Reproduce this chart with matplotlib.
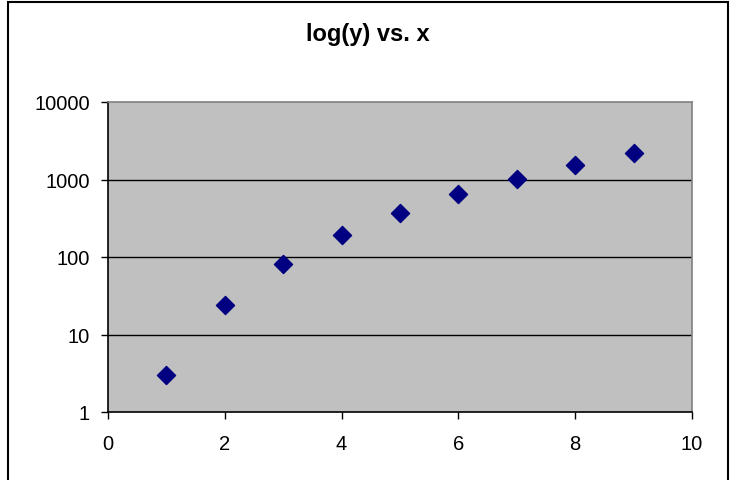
import matplotlib
matplotlib.use("Agg")
import matplotlib.pyplot as plt
from matplotlib.patches import Rectangle

plt.rcParams['font.family'] = ['Liberation Sans', 'DejaVu Sans']

x_vals = [1, 2, 3, 4, 5, 6, 7, 8, 9]
y_vals = [3, 24, 81, 192, 375, 648, 1029, 1536, 2187]
x_ticks = [0, 2, 4, 6, 8, 10]
y_ticks = [1, 10, 100, 1000, 10000]
y_labels = ['1', '10', '100', '1000', '10000']

fig = plt.figure(figsize=(7.34, 4.81), dpi=100)
ax = fig.add_axes([108 / 734, 1 - 413 / 481, 584 / 734, 310 / 481])
ax.set_facecolor('#c0c0c0')

ax.set_yscale('log')
ax.set_xlim(0, 10)
ax.set_ylim(1, 10000)
ax.set_xticks(x_ticks)
ax.set_xticklabels([str(t) for t in x_ticks])
ax.set_yticks(y_ticks)
ax.set_yticklabels(y_labels)
ax.minorticks_off()
ax.tick_params(direction='out', length=5, width=1, labelsize=14.5, color='black')
ax.tick_params(axis='x', pad=11)
ax.tick_params(axis='y', pad=8)

for v in y_ticks[1:-1]:
    ax.axhline(v, color='black', linewidth=1, zorder=1)

ax.scatter(x_vals, y_vals, marker='D', s=85, color='#000080', zorder=3)

ax.spines['left'].set_color('black')
ax.spines['bottom'].set_color('black')
ax.spines['top'].set_color('#808080')
ax.spines['right'].set_color('#808080')
for s in ax.spines.values():
    s.set_linewidth(1.2)

fig.text(368 / 734, 1 - 35 / 481, 'log(y) vs. x', ha='center', va='center',
         fontsize=17, fontweight='bold')

# outer chart border (bottom edge falls outside the image)
fig.patches.append(Rectangle((8 / 734, -0.05), 720 / 734, 1 - 3 / 481 + 0.05,
                             transform=fig.transFigure, fill=False,
                             edgecolor='black', linewidth=1.5))

plt.savefig('out.png', dpi=100)
